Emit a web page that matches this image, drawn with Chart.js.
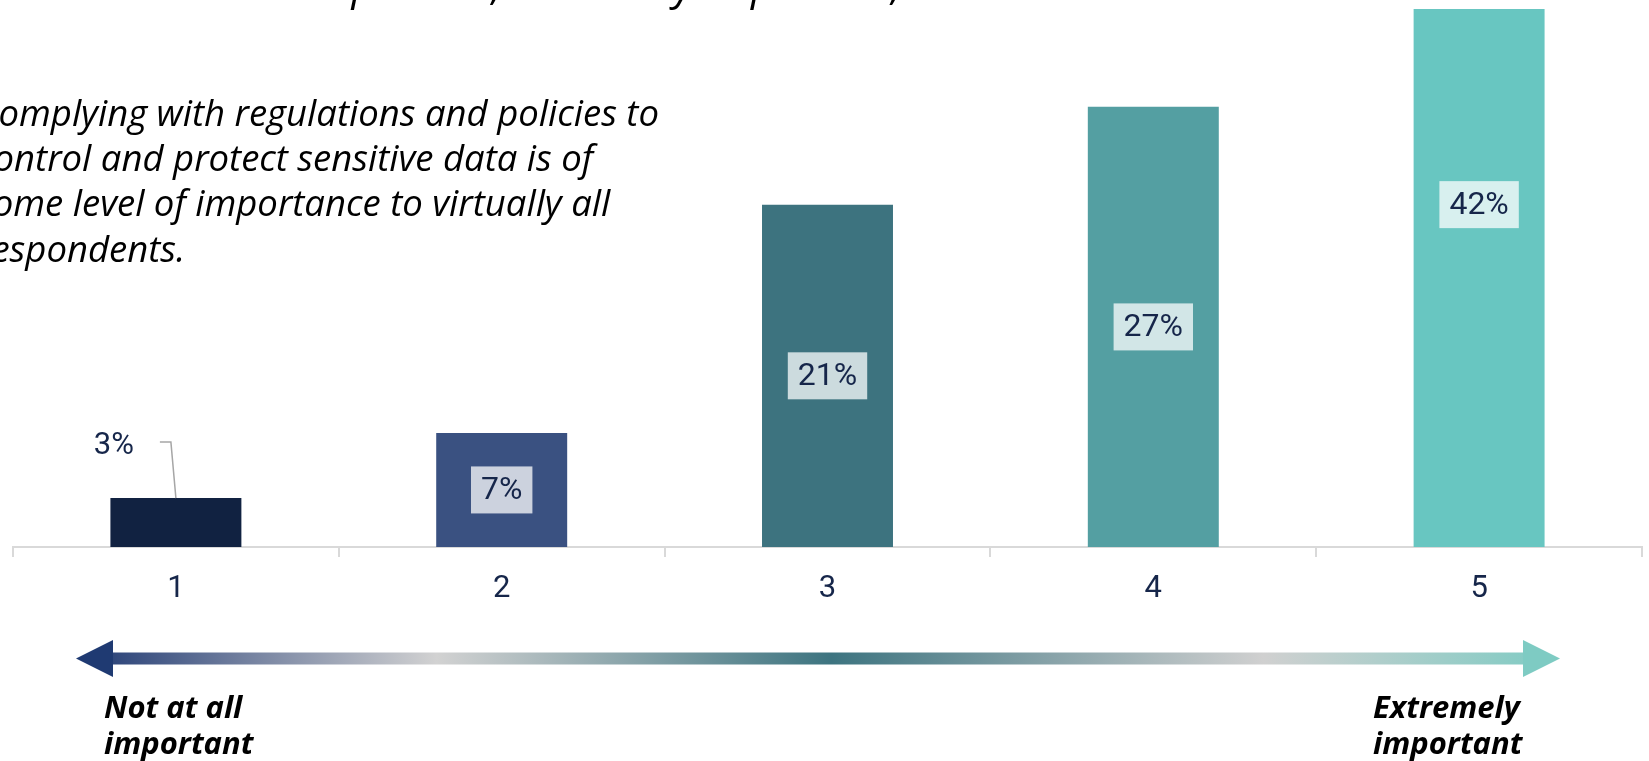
<!DOCTYPE html>
<html>
<head>
<meta charset="utf-8">
<script src="https://cdn.jsdelivr.net/npm/chart.js@4/dist/chart.umd.min.js"></script>
<style>
  html, body { margin: 0; padding: 0; background: #ffffff; overflow: hidden; }
  #wrap { position: absolute; left: 0; top: 0; width: 1649px; height: 761px; }
</style>
</head>
<body>
<div id="wrap"><canvas id="c" width="1649" height="761"></canvas></div>
<script>
// ---- data ----
const categories = ['1', '2', '3', '4', '5'];
const values = [3, 7, 21, 27, 42];
const valueLabels = ['3%', '7%', '21%', '27%', '42%'];
const barColors = ['#112241', '#3A5181', '#3D737F', '#549FA2', '#68C6C1'];
const yMax = 33;
const noteLines = [
  'Complying with regulations and policies to',
  'control and protect sensitive data is of',
  'some level of importance to virtually all',
  'respondents.'
];
const topLine = 'Not at all important, extremely important,';
const leftEndLabel = ['Not at all', 'important'];
const rightEndLabel = ['Extremely', 'important'];

const NAVY = '#16264A';

const decorPlugin = {
  id: 'decor',
  afterDatasetsDraw(chart) {
    const ctx = chart.ctx;
    const meta = chart.getDatasetMeta(0);
    ctx.save();
    meta.data.forEach((bar, i) => {
      const cx = bar.x;
      if (i === 0) {
        ctx.font = '400 31px Roboto';
        ctx.fillStyle = NAVY;
        ctx.textAlign = 'center';
        ctx.textBaseline = 'middle';
        ctx.fillText(valueLabels[i], cx - 62, bar.y - 52);
        ctx.strokeStyle = '#A6A6A6';
        ctx.lineWidth = 1.5;
        ctx.beginPath();
        ctx.moveTo(cx - 16, bar.y - 56);
        ctx.lineTo(cx - 5, bar.y - 56);
        ctx.lineTo(cx, bar.y);
        ctx.stroke();
        return;
      }
      const cy = (bar.y + bar.base) / 2;
      ctx.font = '400 32px Roboto';
      const w = ctx.measureText(valueLabels[i]).width + 20;
      const h = 47;
      ctx.fillStyle = 'rgba(255,255,255,0.74)';
      ctx.fillRect(cx - w / 2, cy - h / 2, w, h);
      ctx.fillStyle = NAVY;
      ctx.textAlign = 'center';
      ctx.textBaseline = 'middle';
      ctx.fillText(valueLabels[i], cx, cy + 1);
    });
    ctx.restore();
  },
  afterDraw(chart) {
    const ctx = chart.ctx;
    ctx.save();
    ctx.fillStyle = '#000';
    ctx.font = 'italic 400 42px "Open Sans"';
    ctx.textAlign = 'left';
    ctx.textBaseline = 'alphabetic';
    ctx.fillText(topLine, 122, 0);
    ctx.font = 'italic 400 36.5px "Open Sans"';
    noteLines.forEach((t, i) => ctx.fillText(t, -23, 126 + 45.2 * i));

    const x0 = 76, x1 = 1560, yc = 658.5;
    const g = ctx.createLinearGradient(x0, 0, x1, 0);
    g.addColorStop(0, '#1E3872');
    g.addColorStop(0.243, '#D2D2D2');
    g.addColorStop(0.509, '#3D7480');
    g.addColorStop(0.80, '#D0D0D0');
    g.addColorStop(1, '#7DCBC3');
    ctx.fillStyle = g;
    ctx.fillRect(112, yc - 6, 1412, 12);
    ctx.fillStyle = '#1F3A72';
    ctx.beginPath();
    ctx.moveTo(x0, yc); ctx.lineTo(113, yc - 18.5); ctx.lineTo(113, yc + 18.5); ctx.closePath();
    ctx.fill();
    ctx.fillStyle = '#7ECBC3';
    ctx.beginPath();
    ctx.moveTo(x1, yc); ctx.lineTo(1523, yc - 18.5); ctx.lineTo(1523, yc + 18.5); ctx.closePath();
    ctx.fill();

    ctx.fillStyle = '#000';
    ctx.font = 'italic 700 31px "Open Sans"';
    ctx.fillText(leftEndLabel[0], 104, 718);
    ctx.fillText(leftEndLabel[1], 104, 754);
    ctx.fillText(rightEndLabel[0], 1373, 718);
    ctx.fillText(rightEndLabel[1], 1373, 754);
    ctx.restore();
  }
};

new Chart(document.getElementById('c'), {
  type: 'bar',
  data: {
    labels: categories,
    datasets: [{
      data: values,
      backgroundColor: barColors,
      borderWidth: 0,
      categoryPercentage: 1,
      barPercentage: 0.402,
      clip: 0
    }]
  },
  options: {
    responsive: false,
    animation: false,
    devicePixelRatio: 1,
    layout: { padding: { left: 13, right: 7, top: 9, bottom: 0 } },
    plugins: { legend: { display: false }, tooltip: { enabled: false }, title: { display: false } },
    scales: {
      y: { display: false, min: 0, max: yMax },
      x: {
        afterFit(scale) { scale.height = 214; },
        border: { display: true, color: '#D9D9D9', width: 2 },
        grid: { display: true, offset: true, drawOnChartArea: false, drawTicks: true, tickLength: 10, color: '#D9D9D9', lineWidth: 2 },
        ticks: { color: NAVY, padding: 14, font: { family: 'Roboto', size: 31 } }
      }
    }
  },
  plugins: [decorPlugin]
});
</script>
</body>
</html>
